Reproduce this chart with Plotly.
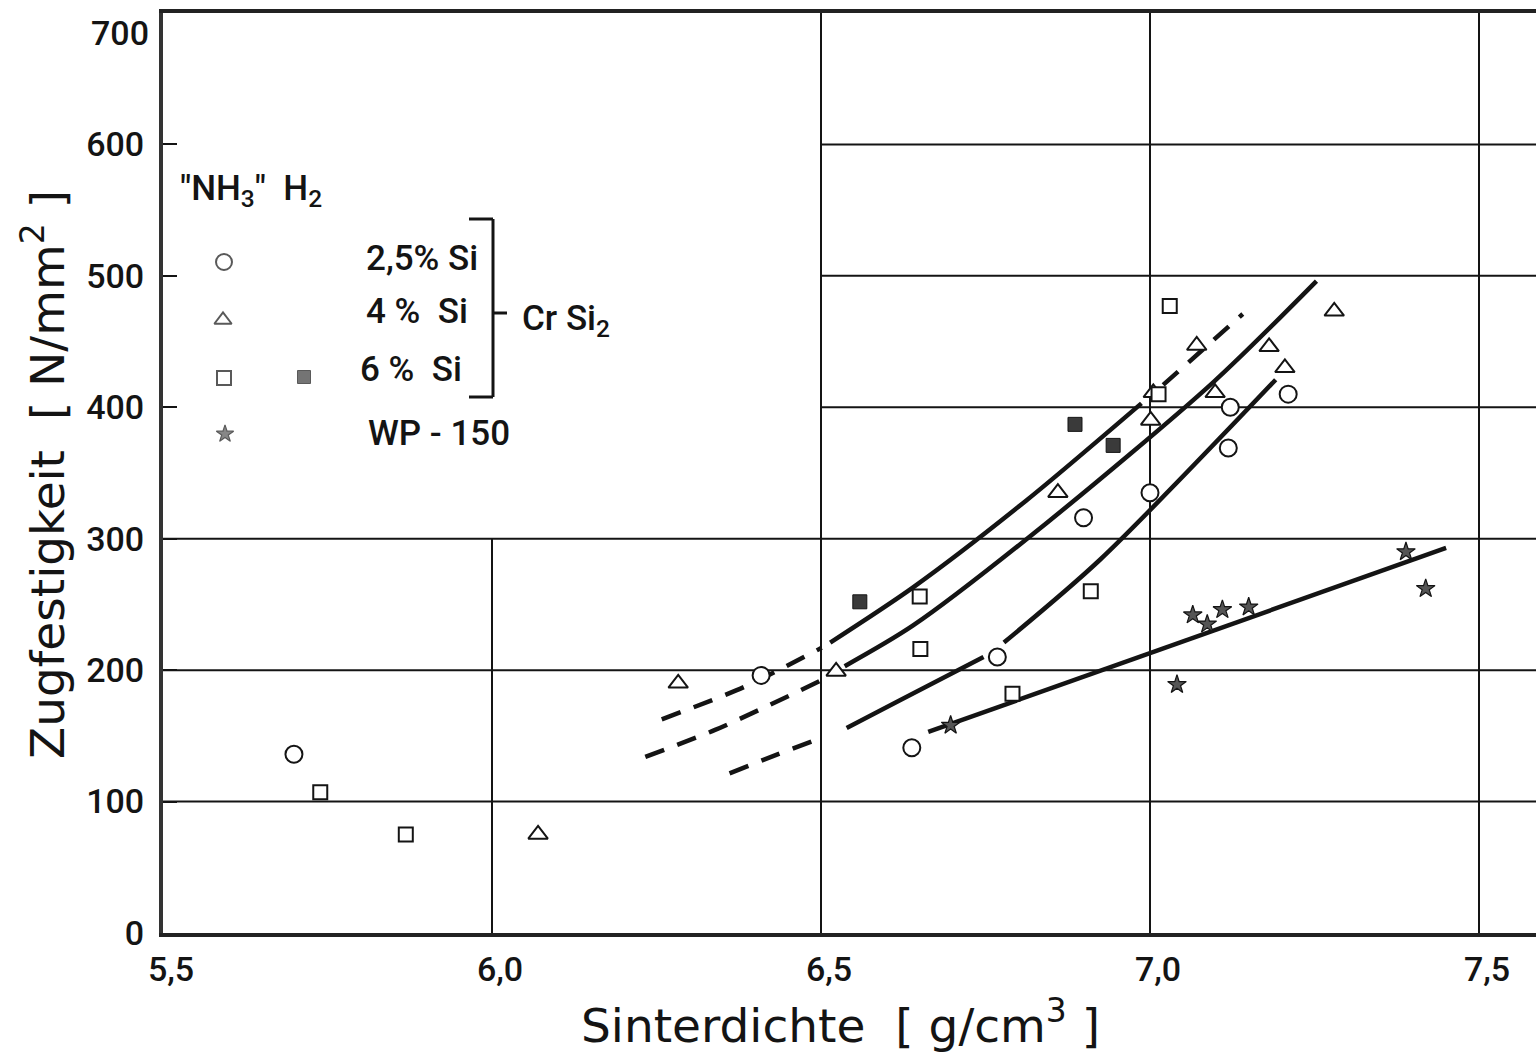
import plotly.graph_objects as go

# --- data ---
# 2,5 % Si, sintered in "NH3" (open circles)
si25_x = [5.699, 6.409, 6.638, 6.768, 6.899, 7.000, 7.122, 7.119, 7.210]
si25_y = [136, 196, 141, 210, 316, 335, 400, 369, 410]

# 4 % Si, "NH3" (open triangles)
si4_x = [6.070, 6.283, 6.523, 6.860, 7.001, 7.005, 7.071, 7.099, 7.181, 7.205, 7.280]
si4_y = [75, 190, 199, 335, 390, 411, 447, 411, 446, 430, 473]

# 6 % Si, "NH3" (open squares)
si6_x = [5.739, 5.869, 6.650, 6.651, 6.791, 6.910, 7.013, 7.030]
si6_y = [107, 75, 256, 216, 182, 260, 410, 477]

# 6 % Si, H2 (filled squares)
si6h2_x = [6.559, 6.886, 6.944]
si6h2_y = [252, 387, 371]

# WP-150 (stars)
wp_x = [6.697, 7.041, 7.065, 7.087, 7.110, 7.150, 7.389, 7.419]
wp_y = [158, 189, 242, 235, 246, 248, 290, 262]

# fitted curves (dashed = extrapolated part)
curveA_dash1_x = [6.258, 6.384, 6.501]
curveA_dash1_y = [162.6, 187.4, 217]
curveA_solid_x = [6.514, 6.640, 6.813, 6.987]
curveA_solid_y = [221, 263, 329.5, 403]
curveA_dash2_x = [7.020, 7.141]
curveA_dash2_y = [417, 471]

curveB_dash_x = [6.233, 6.339, 6.422, 6.501]
curveB_dash_y = [134, 154.5, 173.5, 192.5]
curveB_solid_x = [6.536, 6.640, 6.843, 7.096, 7.253]
curveB_solid_y = [203, 234, 312, 419, 496]

curveC_dash_x = [6.361, 6.432, 6.505]
curveC_dash_y = [121.5, 135.5, 149.4]
curveC_solid1_x = [6.539, 6.620, 6.747]
curveC_solid1_y = [156, 177, 210]
curveC_solid2_x = [6.778, 6.924, 7.191]
curveC_solid2_y = [221, 284, 421]

wp_line_x = [6.663, 7.450]
wp_line_y = [153, 293]

x_ticks = [5.5, 6.0, 6.5, 7.0, 7.5]
x_labels = ["5,5", "6,0", "6,5", "7,0", "7,5"]
y_ticks = [0, 100, 200, 300, 400, 500, 600, 700]

# --- figure geometry (pixels) ---
W, H = 1536, 1055
L, R, T, B = 163, 0, 13, 122
XMAX = 5.5 + (W - L) / 658.0
FONT = "Roboto"
INK = "#141414"


def px(x):
    return (x - L) / (W - L - R)


def py(y):
    return (H - B - y) / (H - T - B)


fig = go.Figure()

line_style = dict(color=INK, width=4.5)
dash_style = dict(color=INK, width=4.5, dash="20px,14px")

curves = [
    (curveA_dash1_x, curveA_dash1_y, dash_style),
    (curveA_solid_x, curveA_solid_y, line_style),
    (curveA_dash2_x, curveA_dash2_y, dash_style),
    (curveB_dash_x, curveB_dash_y, dash_style),
    (curveB_solid_x, curveB_solid_y, line_style),
    (curveC_dash_x, curveC_dash_y, dash_style),
    (curveC_solid1_x, curveC_solid1_y, line_style),
    (curveC_solid2_x, curveC_solid2_y, line_style),
    (wp_line_x, wp_line_y, line_style),
]
for cx, cy, st in curves:
    fig.add_trace(go.Scatter(x=cx, y=cy, mode="lines", line=dict(shape="spline", smoothing=0.8, **st),
                             showlegend=False, hoverinfo="skip"))

mk_line = dict(color=INK, width=2)
fig.add_trace(go.Scatter(x=si25_x, y=si25_y, mode="markers", name="2,5% Si",
                         marker=dict(symbol="circle", size=17, color="white", line=mk_line)))
fig.add_trace(go.Scatter(x=si4_x, y=si4_y, mode="markers", name="4 % Si",
                         marker=dict(symbol="triangle-up", size=17, color="white", line=mk_line)))
fig.add_trace(go.Scatter(x=si6_x, y=si6_y, mode="markers", name="6 % Si",
                         marker=dict(symbol="square", size=14, color="white", line=mk_line)))
fig.add_trace(go.Scatter(x=si6h2_x, y=si6h2_y, mode="markers", name="6 % Si H2",
                         marker=dict(symbol="square", size=14, color="#3a3a3a", line=dict(color=INK, width=1))))
fig.add_trace(go.Scatter(x=wp_x, y=wp_y, mode="markers", name="WP-150",
                         marker=dict(symbol="star", size=14, color="#555555", line=dict(color=INK, width=1.2))))

# key symbols on an overlay axis (0..1 over the plot area)
key_x = [px(224), px(223), px(224), px(304), px(225)]
key_y = [py(262), py(320), py(378), py(377), py(434)]
key_sym = ["circle", "triangle-up", "square", "square", "star"]
key_col = ["white", "white", "white", "#3a3a3a", "#555555"]
key_size = [16, 15, 14, 13, 13]
fig.add_trace(go.Scatter(x=key_x, y=key_y, xaxis="x2", yaxis="y2", mode="markers", showlegend=False,
                         marker=dict(symbol=key_sym, size=key_size, color=key_col,
                                     line=dict(color=INK, width=[2, 2, 2, 1, 1.2]))))

# partial grid, as in the drawing
grid = dict(color=INK, width=2)
shapes = []
shapes.append(dict(type="line", xref="x", yref="y", x0=6.0, x1=6.0, y0=0, y1=300, line=grid, layer="below"))
for xv in x_ticks[2:]:
    shapes.append(dict(type="line", xref="x", yref="y", x0=xv, x1=xv, y0=0, y1=700, line=grid, layer="below"))
for yv in y_ticks[1:4]:
    shapes.append(dict(type="line", xref="x", yref="y", x0=5.5, x1=XMAX, y0=yv, y1=yv, line=grid, layer="below"))
for yv in y_ticks[4:7]:
    shapes.append(dict(type="line", xref="x", yref="y", x0=6.5, x1=XMAX, y0=yv, y1=yv, line=grid, layer="below"))

# bracket in the key
br = dict(color=INK, width=3)
shapes += [
    dict(type="line", xref="paper", yref="paper", x0=px(469), x1=px(493), y0=py(219), y1=py(219), line=br),
    dict(type="line", xref="paper", yref="paper", x0=px(493), x1=px(493), y0=py(219), y1=py(397), line=br),
    dict(type="line", xref="paper", yref="paper", x0=px(469), x1=px(493), y0=py(397), y1=py(397), line=br),
    dict(type="line", xref="paper", yref="paper", x0=px(493), x1=px(507), y0=py(313), y1=py(313), line=br),
]

key_font = dict(family=FONT, size=35, color=INK, weight=500)
annotations = [
    dict(text='"NH<sub>3</sub>"  H<sub>2</sub>', x=px(178), y=py(190), xanchor="left", yanchor="middle"),
    dict(text="2,5% Si", x=px(364), y=py(258), xanchor="left", yanchor="middle"),
    dict(text="4 %  Si", x=px(364), y=py(311), xanchor="left", yanchor="middle"),
    dict(text="6 %  Si", x=px(358), y=py(369), xanchor="left", yanchor="middle"),
    dict(text="WP - 150", x=px(366), y=py(434), xanchor="left", yanchor="middle"),
    dict(text="Cr Si<sub>2</sub>", x=px(520), y=py(320), xanchor="left", yanchor="middle"),
]
for a in annotations:
    a.update(xref="paper", yref="paper", showarrow=False, font=key_font)

tick_font = dict(family=FONT, size=34, color=INK, weight=500)

# top tick label sits below the frame line in the drawing
annotations.append(dict(text=str(y_ticks[-1]), xref="paper", yref="y", x=px(151), y=y_ticks[-1],
                        xanchor="right", yanchor="middle", yshift=-20, showarrow=False, font=tick_font))

title_font = dict(family="DejaVu Sans", size=47, color=INK)
annotations.append(dict(text="Sinterdichte  [ g/cm<sup>3</sup> ]", xref="paper", yref="paper",
                        x=px(840), y=py(1022), xanchor="center", yanchor="middle",
                        showarrow=False, font=title_font))
annotations.append(dict(text="Zugfestigkeit  [ N/mm<sup>2</sup> ]", xref="paper", yref="paper",
                        x=px(44), y=py(475), xanchor="center", yanchor="middle", textangle=-90,
                        showarrow=False, font=title_font))

fig.update_layout(
    width=W, height=H,
    margin=dict(l=L, r=R, t=T, b=B, autoexpand=False),
    paper_bgcolor="white", plot_bgcolor="white",
    showlegend=False,
    font=dict(family=FONT, color=INK),
    shapes=shapes,
    annotations=annotations,
    xaxis=dict(range=[5.5, XMAX], tickvals=x_ticks, ticktext=x_labels, showgrid=False, zeroline=False,
               showline=True, linecolor="#222222", linewidth=4, mirror=True, ticks="", automargin=False,
               tickfont=tick_font, ticklabelshift=8, ticklabelstandoff=3),
    yaxis=dict(range=[0, 700], tickvals=y_ticks[:-1], showgrid=False, zeroline=False, automargin=False,
               showline=True, linecolor="#333333", linewidth=4, ticks="inside", ticklen=14, tickwidth=2,
               tickcolor=INK, tickfont=tick_font, ticklabelstandoff=8),
    xaxis2=dict(range=[0, 1], overlaying="x", visible=False),
    yaxis2=dict(range=[0, 1], overlaying="y", visible=False),
)

# the page's default body margin would push the figure off its frame
fig.write_html("out.html", config={"displayModeBar": False},
               post_script="document.body.style.margin='0';document.body.style.overflow='hidden';")
